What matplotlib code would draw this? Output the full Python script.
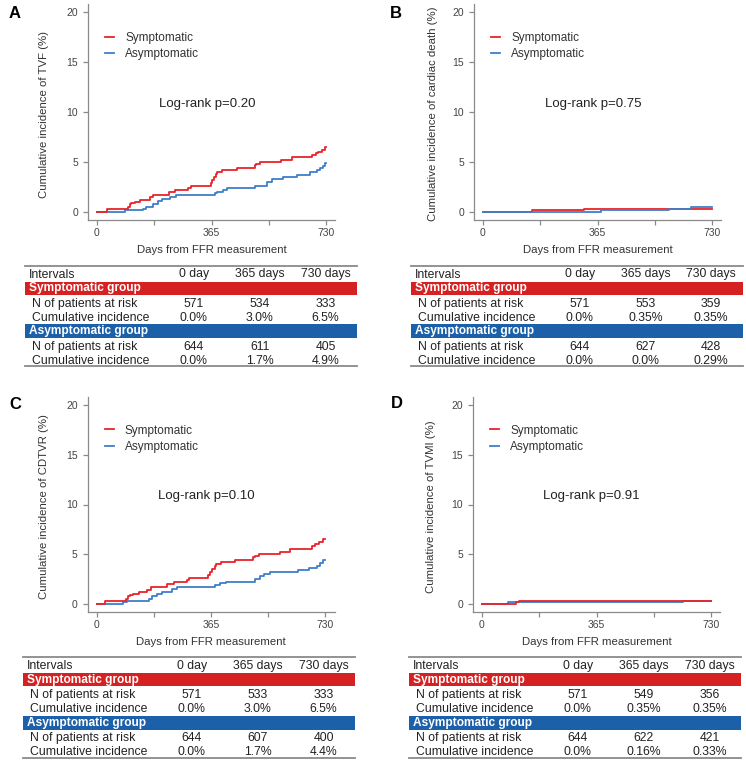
import matplotlib
matplotlib.use("Agg")
import matplotlib.pyplot as plt
from matplotlib.patches import Rectangle

plt.rcParams['font.family'] = ['Liberation Sans', 'DejaVu Sans']

RED = '#e8232b'
BLUE = '#3f7fc9'
BAND_RED = '#d52121'
BAND_BLUE = '#1b60a8'
GREY = '#8a8a8a'

# ---- data ----
letters = ['A', 'B', 'C', 'D']
ylabels = ['Cumulative incidence of TVF (%)',
           'Cumulative incidence of cardiac death (%)',
           'Cumulative incidence of CDTVR (%)',
           'Cumulative incidence of TVMI (%)']
pvalues = ['Log-rank p=0.20', 'Log-rank p=0.75', 'Log-rank p=0.10', 'Log-rank p=0.91']

a_sym_t = [0, 32, 99, 104, 110, 120, 136, 168, 177, 230, 248, 290, 301, 362, 367, 372, 378, 383,
           397, 447, 503, 508, 519, 588, 620, 686, 697, 705, 716, 727, 730]
a_sym_y = [0, 0.3, 0.5, 0.8, 0.9, 1.0, 1.2, 1.5, 1.7, 2.0, 2.2, 2.4, 2.6, 2.9, 3.2, 3.5, 3.8, 4.0,
           4.2, 4.4, 4.7, 4.8, 5.0, 5.2, 5.5, 5.7, 5.9, 6.0, 6.2, 6.5, 6.5]
a_asym_t = [0, 88, 147, 157, 179, 195, 206, 232, 253, 376, 381, 402, 413, 503, 541, 557, 594,
            636, 679, 700, 710, 720, 727, 730]
a_asym_y = [0, 0.2, 0.3, 0.5, 0.8, 1.1, 1.3, 1.5, 1.7, 1.9, 2.0, 2.2, 2.4, 2.6, 3.0, 3.3, 3.5,
            3.7, 4.0, 4.2, 4.4, 4.6, 4.9, 4.9]

b_sym_t = [0, 157, 322, 730]
b_sym_y = [0, 0.17, 0.35, 0.35]
b_asym_t = [0, 375, 593, 664, 730]
b_asym_y = [0, 0.16, 0.33, 0.5, 0.5]

c_sym_t = [0, 27, 94, 100, 105, 117, 136, 159, 173, 224, 245, 288, 296, 355, 362, 368, 376, 382,
           397, 442, 500, 505, 517, 584, 618, 687, 697, 708, 723, 730]
c_sym_y = [0, 0.3, 0.5, 0.8, 0.9, 1.0, 1.2, 1.4, 1.7, 2.0, 2.2, 2.4, 2.6, 2.9, 3.2, 3.5, 3.8, 4.0,
           4.2, 4.4, 4.7, 4.8, 5.0, 5.2, 5.5, 5.8, 6.0, 6.2, 6.5, 6.5]
c_asym_t = [0, 83, 96, 166, 176, 192, 208, 240, 256, 376, 394, 413, 506, 520, 535, 554, 643,
            677, 704, 712, 723, 730]
c_asym_y = [0, 0.2, 0.3, 0.5, 0.8, 1.0, 1.2, 1.5, 1.7, 1.9, 2.1, 2.2, 2.5, 2.8, 3.0, 3.2, 3.4,
            3.6, 3.8, 4.1, 4.4, 4.4]

d_sym_t = [0, 108, 119, 730]
d_sym_y = [0, 0.17, 0.35, 0.35]
d_asym_t = [0, 82, 642, 730]
d_asym_y = [0, 0.16, 0.33, 0.33]

col_heads = ['0 day', '365 days', '730 days']
a_n_sym = ['571', '534', '333']
a_ci_sym = ['0.0%', '3.0%', '6.5%']
a_n_asym = ['644', '611', '405']
a_ci_asym = ['0.0%', '1.7%', '4.9%']
b_n_sym = ['571', '553', '359']
b_ci_sym = ['0.0%', '0.35%', '0.35%']
b_n_asym = ['644', '627', '428']
b_ci_asym = ['0.0%', '0.0%', '0.29%']
c_n_sym = ['571', '533', '333']
c_ci_sym = ['0.0%', '3.0%', '6.5%']
c_n_asym = ['644', '607', '400']
c_ci_asym = ['0.0%', '1.7%', '4.4%']
d_n_sym = ['571', '549', '356']
d_ci_sym = ['0.0%', '0.35%', '0.35%']
d_n_asym = ['644', '622', '421']
d_ci_asym = ['0.0%', '0.16%', '0.33%']

curves = [(a_sym_t, a_sym_y, a_asym_t, a_asym_y),
          (b_sym_t, b_sym_y, b_asym_t, b_asym_y),
          (c_sym_t, c_sym_y, c_asym_t, c_asym_y),
          (d_sym_t, d_sym_y, d_asym_t, d_asym_y)]
tables = [(a_n_sym, a_ci_sym, a_n_asym, a_ci_asym),
          (b_n_sym, b_ci_sym, b_n_asym, b_ci_asym),
          (c_n_sym, c_ci_sym, c_n_asym, c_ci_asym),
          (d_n_sym, d_ci_sym, d_n_asym, d_ci_asym)]
red_on_top = [True, False, True, True]

# ---- layout in pixels ----
W, H = 746, 764
# axes boxes: left, top, width, height (px)
ax_boxes = [(87.8, 4, 247.4, 216), (473.8, 4, 247.4, 216),
            (87.6, 397, 247.0, 215), (472.8, 397, 247.4, 215)]
ylab_off = [39, 36, 39, 36.5]
letter_pos = [(15, 14), (396, 13), (15, 404.5), (396.5, 404)]
table_pos = [(25, 357, 265.7), (410.7, 743, 265.7), (23, 355, 657), (409, 741, 657)]

fig = plt.figure(figsize=(W / 100, H / 100), dpi=100)

for i in range(4):
    l, t, w, h = ax_boxes[i]
    ax = fig.add_axes([l / W, 1 - (t + h) / H, w / W, h / H])
    st, sy, at, ay = curves[i]
    zr = 3 if red_on_top[i] else 2
    ax.step(st, sy, where='post', color=RED, lw=1.3, label='Symptomatic', zorder=zr)
    ax.step(at, ay, where='post', color=BLUE, lw=1.3, label='Asymptomatic', zorder=5 - zr)
    ax.set_xlim(-29.2, 759.2)
    ax.set_ylim(-0.8, 20.8)
    ax.set_xticks([0, 182.5, 365, 547.5, 730])
    ax.set_xticklabels(['0', '', '365', '', '730'])
    ax.set_yticks([0, 5, 10, 15, 20])
    ax.tick_params(colors=GREY, labelcolor='#444444', labelsize=7.5, length=3.6, width=0.9)
    ax.tick_params(axis='x', pad=2.2)
    ax.tick_params(axis='y', pad=3.5)
    for s in ['top', 'right']:
        ax.spines[s].set_visible(False)
    for s in ['left', 'bottom']:
        ax.spines[s].set_color(GREY)
        ax.spines[s].set_linewidth(0.9)
    ax.set_ylabel(ylabels[i], fontsize=8.2, color='#333333')
    ax.yaxis.set_label_coords(-ylab_off[i] / w, 0.49)
    ax.set_xlabel('Days from FFR measurement', fontsize=8.2, color='#333333')
    ax.xaxis.set_label_coords(0.5, -25 / h)
    ax.text(350, 10.85, pvalues[i], fontsize=9.5, color='#222222', ha='center', va='center')
    leg = ax.legend(loc='upper left', bbox_to_anchor=(0.07, 0.872), frameon=False,
                    fontsize=8.5, handlelength=0.75, handletextpad=0.95, labelspacing=0.38,
                    borderpad=0, borderaxespad=0)
    for txt in leg.get_texts():
        txt.set_color('#333333')

# overlay in pixel coords for tables and panel letters
ov = fig.add_axes([0, 0, 1, 1])
ov.set_xlim(0, W)
ov.set_ylim(H, 0)
ov.axis('off')
ov.patch.set_alpha(0)

col_off = [169, 235, 300.5]
for i in range(4):
    x0, x1, top = table_pos[i]
    ns, cs, na, ca = tables[i]
    ov.text(letter_pos[i][0], letter_pos[i][1], letters[i], fontsize=12, fontweight='bold',
            ha='center', va='center', color='black')
    ov.plot([x0, x1], [top, top], color=GREY, lw=1.3)
    ov.plot([x0, x1], [top + 100.5, top + 100.5], color=GREY, lw=1.3)
    ov.add_patch(Rectangle((x0, top + 16.3), x1 - x0, 12.6, color=BAND_RED, lw=0))
    ov.add_patch(Rectangle((x0, top + 58.6), x1 - x0, 14.0, color=BAND_BLUE, lw=0))
    ov.text(x0 + 4, top + 8.8, 'Intervals', fontsize=8.8, va='center', color='#222222')
    ov.text(x0 + 4, top + 22.6, 'Symptomatic group', fontsize=8.6, fontweight='bold',
            va='center', color='white')
    ov.text(x0 + 4, top + 65.6, 'Asymptomatic group', fontsize=8.6, fontweight='bold',
            va='center', color='white')
    rows = [(top + 38, 'N of patients at risk', ns),
            (top + 52.3, 'Cumulative incidence', cs),
            (top + 81.3, 'N of patients at risk', na),
            (top + 95.3, 'Cumulative incidence', ca)]
    for j in range(3):
        ov.text(x0 + col_off[j], top + 8.8, col_heads[j], fontsize=8.8, ha='center',
                va='center', color='#222222')
    for y, lab, vals in rows:
        ov.text(x0 + 7, y, lab, fontsize=8.8, va='center', color='#222222')
        for j in range(3):
            ov.text(x0 + col_off[j], y, vals[j], fontsize=8.8, ha='center', va='center',
                    color='#222222')

fig.savefig('out.png', dpi=100, facecolor='white')
